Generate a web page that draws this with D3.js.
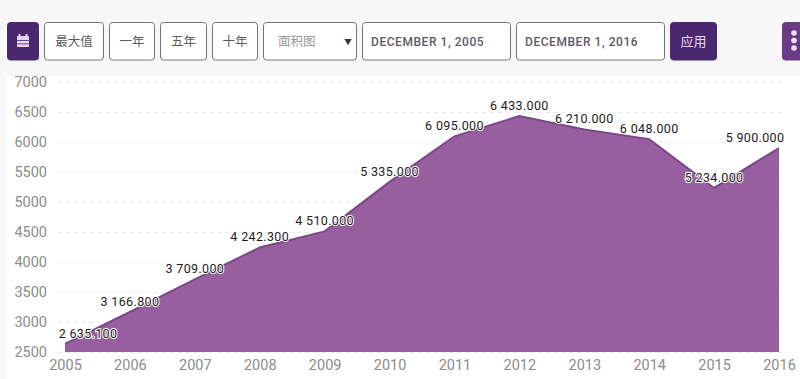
<!DOCTYPE html>
<html>
<head>
<meta charset="utf-8">
<script src="https://cdn.jsdelivr.net/npm/d3@7"></script>
<style>
  html, body { margin: 0; padding: 0; background: #f7f7f7; overflow: hidden; }
  text { font-family: Roboto, "Noto Sans CJK SC", sans-serif; }
</style>
</head>
<body>
<script>
// Data
var years = [2005, 2006, 2007, 2008, 2009, 2010, 2011, 2012, 2013, 2014, 2015, 2016]
var values = [2635.1, 3166.8, 3709, 4242.3, 4510, 5335, 6095, 6433, 6210, 6048, 5234, 5900]
var yTicks = [2500, 3000, 3500, 4000, 4500, 5000, 5500, 6000, 6500, 7000]
var toolbarLabels = ['最大值', '一年', '五年', '十年']
var chartType = '面积图'
var startDate = 'DECEMBER 1, 2005'
var endDate = 'DECEMBER 1, 2016'
var applyLabel = '应用'

// Dimensions
var width = 800
var height = 379
var colours = { dark: '#4a2870', menu: '#6b3a87', area: '#985f9f', line: '#7b4788', border: '#77727a', text: '#5f5a62', grid: '#ececec', tick: '#8c8c8c' }

var svg = d3.select('body').append('svg')
  .attr('width', width)
  .attr('height', height)
  .style('display', 'block')

// Chart panel
svg.append('rect').attr('x', 6).attr('y', 76).attr('width', 794).attr('height', 303).attr('fill', '#fff')

// Scales
var x = d3.scaleLinear().domain([2005, 2016]).range([65, 779])
var y = d3.scaleLinear().domain([2500, 7000]).range([352, 82])

// Axes
var yAxis = svg.append('g')
  .attr('transform', 'translate(57,0)')
  .call(d3.axisLeft(y).tickValues(yTicks).tickFormat(d3.format('d')).tickSize(0).tickPadding(10))
yAxis.select('.domain').remove()
yAxis.selectAll('line')
  .attr('x2', 728)
  .attr('stroke', colours.grid)
  .attr('stroke-dasharray', '5 3')
yAxis.selectAll('text').attr('fill', colours.tick).attr('font-size', 14.5).attr('font-family', 'Roboto')

var xAxis = svg.append('g')
  .attr('transform', 'translate(0,352)')
  .call(d3.axisBottom(x).tickValues(years).tickFormat(d3.format('d')).tickSize(0).tickPadding(8))
xAxis.select('.domain').remove()
xAxis.selectAll('text')
  .attr('fill', colours.tick)
  .attr('font-size', 14.5)
  .attr('font-family', 'Roboto')

// Area
var area = d3.area().x((d, i) => x(years[i])).y0(y(2500)).y1(d => y(d))
var line = d3.line().x((d, i) => x(years[i])).y(d => y(d))

svg.append('path').datum(values).attr('d', area).attr('fill', colours.area)
svg.append('path').datum(values).attr('d', line).attr('fill', 'none').attr('stroke', colours.line).attr('stroke-width', 2)

// Labels, format "2 635.100"
var fmt = d3.formatLocale({ decimal: '.', thousands: ' ', grouping: [3], currency: ['', ''] }).format(',.3f')
var labels = svg.append('g').selectAll('text').data(values).join('text')
  .attr('x', (d, i) => Math.min(755, Math.max(88, x(years[i]))))
  .attr('y', d => y(d) - 6)
  .attr('text-anchor', 'middle')
  .attr('font-size', 12.5)
  .attr('letter-spacing', 0.35)
  .attr('fill', '#1c1c1c')
  .attr('stroke', '#fff')
  .attr('stroke-width', 2)
  .attr('paint-order', 'stroke')
  .text(d => fmt(d))

// Toolbar
function box(x0, x1, label, opts) {
  opts = opts || {}
  var g = svg.append('g')
  g.append('rect')
    .attr('x', x0 + 0.5).attr('y', 22.5)
    .attr('width', x1 - x0 - 1).attr('height', 37.5)
    .attr('rx', 3)
    .attr('fill', opts.fill || '#fff')
    .attr('stroke', opts.fill || colours.border)
  if (label) {
    g.append('text')
      .attr('x', opts.tx || (x0 + x1) / 2).attr('y', 46)
      .attr('text-anchor', opts.anchor || 'middle')
      .attr('font-size', opts.size || 12.5)
      .attr('font-weight', opts.weight || 400)
      .attr('letter-spacing', opts.spacing || 0)
      .attr('fill', opts.color || colours.text)
      .text(label)
  }
  return g
}

var calendar = box(7, 39, null, { fill: colours.dark })
// Calendar icon
calendar.append('rect').attr('x', 17).attr('y', 36).attr('width', 12).attr('height', 11).attr('rx', 1).attr('fill', '#e6d5ee')
calendar.selectAll('.ring').data([19.5, 26.5]).join('rect')
  .attr('x', d => d - 1).attr('y', 34).attr('width', 2).attr('height', 3).attr('fill', '#e6d5ee')
calendar.selectAll('.row').data([40, 43.5]).join('rect')
  .attr('x', 17).attr('y', d => d).attr('width', 12).attr('height', 0.8).attr('fill', colours.dark)

var buttonEdges = [[44, 104], [109, 155], [160, 207], [212, 258]]
toolbarLabels.forEach((d, i) => box(buttonEdges[i][0], buttonEdges[i][1], d))

var select = box(263, 357, chartType, { color: '#9a969c', tx: 278, anchor: 'start' })
select.append('text').attr('x', 348).attr('y', 44.5).attr('text-anchor', 'middle').attr('font-size', 7.5).attr('fill', '#333').text('▼')

box(362, 511, startDate, { weight: 500, size: 12, tx: 371, anchor: 'start', spacing: 0.55 })
box(516, 665, endDate, { weight: 500, size: 12, tx: 525, anchor: 'start', spacing: 0.55 })
box(670, 717, applyLabel, { fill: colours.dark, color: '#e6d5ee', size: 13 })

// Menu button at the right edge
var menu = box(782, 806, null, { fill: colours.menu })
menu.selectAll('circle').data([33, 40.5, 48]).join('circle')
  .attr('cx', 794).attr('cy', d => d).attr('r', 2.8).attr('fill', '#ecdff2')
</script>
</body>
</html>
